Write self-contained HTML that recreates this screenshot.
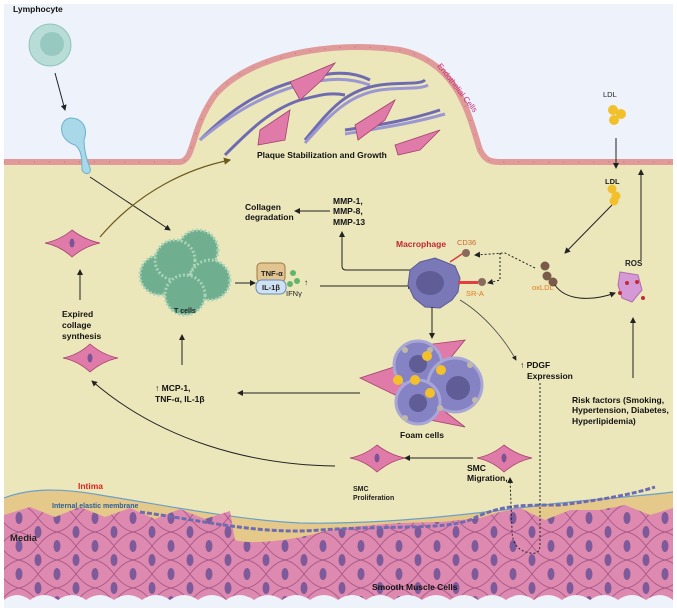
<!DOCTYPE html>
<html><head><meta charset="utf-8"><style>
html,body{margin:0;padding:0;background:#fff}
svg{display:block;font-family:"Liberation Sans",sans-serif}
.t{font-size:8.5px;font-weight:bold;fill:#111}
</style></head><body>
<svg width="677" height="613" viewBox="0 0 677 613" xmlns="http://www.w3.org/2000/svg">
<defs>
<pattern id="smc" x="0" y="0" width="38" height="28" patternUnits="userSpaceOnUse">
<rect width="38" height="28" fill="#de8ab0"/>
<path d="M0 14 Q9 2 19 0 M19 0 Q29 2 38 14 M0 14 Q9 26 19 28 M19 28 Q29 26 38 14" stroke="#a8588a" stroke-width="0.9" fill="none"/>
<ellipse cx="19" cy="14" rx="3.5" ry="6" fill="#7e5a9a"/>
<ellipse cx="0" cy="0" rx="3.5" ry="6" fill="#7e5a9a"/>
<ellipse cx="38" cy="0" rx="3.5" ry="6" fill="#7e5a9a"/>
<ellipse cx="0" cy="28" rx="3.5" ry="6" fill="#7e5a9a"/>
<ellipse cx="38" cy="28" rx="3.5" ry="6" fill="#7e5a9a"/>
</pattern>
<marker id="a" markerWidth="6" markerHeight="6" refX="5" refY="3" orient="auto"><path d="M0 0L6 3L0 6z" fill="#222"/></marker>
<marker id="o" markerWidth="6" markerHeight="6" refX="5" refY="3" orient="auto"><path d="M0 0L6 3L0 6z" fill="#6b5a1c"/></marker>
</defs>
<rect x="0" y="0" width="677" height="613" fill="#fff"/>
<rect x="4" y="4" width="669" height="604" fill="#eef3fb"/>
<path d="M4 162 L180 162 C195 160 190 130 215 95 C250 55 330 40 400 50 C460 62 470 120 480 150 C485 160 490 162 500 162 L673 162 L673 608 L4 608Z" fill="#ece7bb"/>
<path d="M4 162 L180 162 C195 160 190 130 215 95 C250 55 330 40 400 50 C460 62 470 120 480 150 C485 160 490 162 500 162 L673 162" stroke="#e09a9a" stroke-width="6" fill="none"/>
<path d="M4 162 L180 162 C195 160 190 130 215 95 C250 55 330 40 400 50 C460 62 470 120 480 150 C485 160 490 162 500 162 L673 162" stroke="#c86a6a" stroke-width="1" stroke-dasharray="1 14" fill="none"/>
<g stroke-width="3" fill="none">
<path d="M200 140 C230 110 260 90 300 80 C330 72 350 70 370 80" stroke="#6f6bb0"/>
<path d="M200 140 C230 115 262 95 300 85 C330 77 350 78 370 85" stroke="#9b97d0"/>
<path d="M225 155 C250 130 270 110 300 100 C320 95 330 92 345 95" stroke="#6f6bb0"/>
<path d="M305 140 C330 110 345 90 380 85 C400 82 420 85 425 80" stroke="#6f6bb0"/>
<path d="M305 143 C330 115 348 95 380 90 C400 87 420 90 428 85" stroke="#9b97d0"/>
<path d="M345 130 C380 125 410 120 440 110" stroke="#6f6bb0"/>
<path d="M345 134 C380 128 410 124 445 114" stroke="#9b97d0"/>
</g>
<g fill="#e07aa8" stroke="#a2416f" stroke-width="0.8">
<path d="M290 82 L335 63 L322 80 L300 100Z"/><path d="M260 130 L290 110 L285 140 L258 145Z"/>
<path d="M355 125 L395 100 L385 120 L358 140Z"/><path d="M395 145 L440 130 L420 150 L398 155Z"/>
</g>
<text x="257" y="158" class="t" font-size="8">Plaque Stabilization and Growth</text>
<text x="0" y="0" transform="translate(437,66) rotate(52)" font-size="8" fill="#c4337b">Endothelial Cells</text>
<path d="M4 498 C30 488 60 488 100 495 C180 508 240 520 300 523 C400 525 500 510 560 503 C620 497 650 495 673 492 L673 608 L4 608Z" fill="#e5c98a"/>
<path d="M4 498 C30 488 60 488 100 495 C180 508 240 520 300 523 C400 525 500 510 560 503 C620 497 650 495 673 492" stroke="#6aa0c8" stroke-width="1.2" fill="none"/>
<path d="M4 515 L30 507 L55 517 L80 507 L105 517 L130 508 L155 519 L180 509 L205 519 L230 511 L235 540 C250 545 290 540 310 535 L330 530 L360 526 L400 523 L440 522 L480 518 L500 512 L520 508 L545 520 L570 510 L600 510 L625 505 L650 515 L673 508 L673 600 L4 600Z" fill="url(#smc)"/>
<path d="M4 600 Q17 590 30 600 Q44 590 58 600 Q72 590 86 600 Q100 590 114 600 Q128 590 142 600 Q156 590 170 600 Q184 590 198 600 Q212 590 226 600 Q240 590 254 600 Q268 590 282 600 Q296 590 310 600 Q324 590 338 600 Q352 590 366 600 Q380 590 394 600 Q408 590 422 600 Q436 590 450 600 Q464 590 478 600 Q492 590 506 600 Q520 590 534 600 Q548 590 562 600 Q576 590 590 600 Q604 590 618 600 Q632 590 646 600 Q660 590 673 600 L673 608 L4 608Z" fill="#eef3fb"/>
<path d="M140 512 C200 520 260 535 320 530 C400 525 440 530 470 520 C500 505 520 505 560 505 C600 500 630 495 655 487" stroke="#6f6bb0" stroke-width="3" fill="none" stroke-dasharray="5 2"/>
<text x="78" y="489" font-size="8.5" font-weight="bold" fill="#e02020">Intima</text>
<text x="52" y="508" font-size="7" font-weight="bold" fill="#2a5f9a">Internal elastic membrane</text>
<text x="10" y="541" font-size="9.5" font-weight="bold" fill="#222">Media</text>
<text x="372" y="590" class="t" font-size="7.5">Smooth Muscle Cells</text>
<text x="13" y="12" class="t" font-size="7.5">Lymphocyte</text>
<circle cx="50" cy="45" r="21" fill="#b8ddd6" stroke="#8fc4bb"/><circle cx="52" cy="44" r="12" fill="#97c9c0"/>
<line x1="55" y1="73" x2="65" y2="110" stroke="#222" marker-end="url(#a)"/>
<path d="M70 118 C58 120 58 140 75 145 C82 150 82 160 82 170 C85 176 92 174 90 168 C86 158 84 150 84 140 C88 130 84 118 70 118Z" fill="#a9d9e8" stroke="#6ab0cc"/>
<line x1="90" y1="177" x2="170" y2="230" stroke="#222" marker-end="url(#a)"/>
<path d="M100 237 C140 190 190 168 230 160" stroke="#6b5a1c" stroke-width="1.2" fill="none" marker-end="url(#o)"/>
<g fill="#e07aa8" stroke="#a2416f" stroke-width="0.8">
<path d="M45 243 Q60 240 72 230 Q85 240 100 243 Q85 246 72 257 Q60 246 45 243Z"/>
<path d="M63 358 Q78 355 90 344 Q103 355 118 358 Q103 361 90 372 Q78 361 63 358Z"/>
<path d="M350 458 Q365 455 377 445 Q390 455 405 458 Q390 461 377 472 Q365 461 350 458Z"/>
<path d="M477 458 Q492 455 504 445 Q517 455 532 458 Q517 461 504 472 Q492 461 477 458Z"/>
</g>
<g fill="#7a5596"><ellipse cx="72" cy="243" rx="2.5" ry="4.5"/><ellipse cx="90" cy="358" rx="2.5" ry="4.5"/><ellipse cx="377" cy="458" rx="2.5" ry="4.5"/><ellipse cx="504" cy="458" rx="2.5" ry="4.5"/></g>
<line x1="80" y1="300" x2="80" y2="270" stroke="#222" marker-end="url(#a)"/>
<text class="t" x="62" y="317">Expired</text><text class="t" x="62" y="328">collage</text><text class="t" x="62" y="339">synthesis</text>
<g fill="#6fae8e" stroke="#a9d4b8" stroke-width="3" stroke-dasharray="2 2">
<circle cx="160" cy="275" r="20"/><circle cx="198" cy="250" r="20"/><circle cx="175" cy="260" r="20"/><circle cx="210" cy="280" r="20"/><circle cx="185" cy="295" r="20"/>
</g>
<text x="174" y="313" font-size="7" font-weight="bold" fill="#222">T cells</text>
<line x1="182" y1="365" x2="182" y2="335" stroke="#222" marker-end="url(#a)"/>
<line x1="235" y1="283" x2="255" y2="283" stroke="#222" marker-end="url(#a)"/>
<rect x="257" y="263" width="28" height="19" rx="4" fill="#e2c490" stroke="#9a7a40"/>
<text x="261" y="276" font-size="7.5" font-weight="bold" fill="#222">TNF-α</text>
<rect x="256" y="280" width="30" height="14" rx="6" fill="#cfe2f3" stroke="#6a8ab8"/>
<text x="262" y="290" font-size="7.5" font-weight="bold" fill="#222">IL-1β</text>
<circle cx="293" cy="273" r="3" fill="#63b56b"/><circle cx="297" cy="281" r="3" fill="#63b56b"/><circle cx="290" cy="284" r="3" fill="#63b56b"/>
<text x="286" y="296" font-size="7.5" fill="#222">IFNγ</text><text x="304" y="285" font-size="8" fill="#222">↑</text>
<line x1="320" y1="286" x2="413" y2="286" stroke="#222" marker-end="url(#a)"/>
<text class="t" x="333" y="204">MMP-1,</text><text class="t" x="333" y="214">MMP-8,</text><text class="t" x="333" y="225">MMP-13</text>
<text class="t" x="245" y="210">Collagen</text><text class="t" x="245" y="220">degradation</text>
<line x1="330" y1="211" x2="295" y2="211" stroke="#222" marker-end="url(#a)"/>
<path d="M410 270 L346 270 Q342 270 342 266 L342 232" stroke="#222" fill="none" marker-end="url(#a)"/>
<path d="M410 270 L420 262 L435 258 L445 262 L455 266 L460 278 L458 292 L452 300 L440 308 L425 307 L414 298 L408 285Z" fill="#7b78b8" stroke="#5c5a98"/>
<ellipse cx="430" cy="283" rx="14" ry="12" fill="#5f5c96"/>
<text x="396" y="247" font-size="8.5" font-weight="bold" fill="#c0282c">Macrophage</text>
<text x="457" y="245" font-size="7.5" fill="#c86a2a">CD36</text>
<text x="466" y="296" font-size="7.5" fill="#e07a20">SR-A</text>
<line x1="450" y1="262" x2="465" y2="252" stroke="#d04040" stroke-width="1.5"/>
<rect x="458" y="281" width="20" height="3" fill="#e04040"/>
<circle cx="466" cy="253" r="4" fill="#8a6a5a"/><circle cx="482" cy="282" r="4" fill="#8a6a5a"/>
<path d="M535 268 L505 253 L475 255" stroke="#222" stroke-dasharray="2 2" fill="none" marker-end="url(#a)"/>
<path d="M500 253 L500 280 L488 283" stroke="#222" stroke-dasharray="2 2" fill="none" marker-end="url(#a)"/>
<line x1="432" y1="307" x2="432" y2="338" stroke="#222" marker-end="url(#a)"/>
<path d="M460 300 C485 315 505 340 516 360" stroke="#444" stroke-width="0.8" fill="none" marker-end="url(#a)"/>
<text class="t" x="520" y="368">↑ PDGF</text><text class="t" x="527" y="379">Expression</text>
<path d="M540 383 L540 545 Q540 555 530 553 Q512 550 512 530 L510 478" stroke="#222" stroke-dasharray="2 2" fill="none" marker-end="url(#a)"/>
<g fill="#e07aa8" stroke="#a2416f" stroke-width="0.8">
<path d="M360 378 L400 365 L415 390 L395 395Z"/><path d="M425 345 L465 340 L445 365Z"/><path d="M430 400 L465 427 L430 420Z"/>
</g>
<circle cx="418" cy="365" r="24" fill="#8583c4" stroke="#a8a6d6" stroke-width="3"/>
<circle cx="455" cy="385" r="27" fill="#8583c4" stroke="#a8a6d6" stroke-width="3"/>
<circle cx="418" cy="402" r="22" fill="#8583c4" stroke="#a8a6d6" stroke-width="3"/>
<circle cx="418" cy="364" r="9" fill="#5f5c96"/><circle cx="458" cy="388" r="12" fill="#5f5c96"/><circle cx="418" cy="403" r="9" fill="#5f5c96"/>
<g fill="#c0b9a8"><circle cx="405" cy="350" r="3"/><circle cx="430" cy="350" r="3"/><circle cx="400" cy="380" r="3"/><circle cx="470" cy="365" r="3"/><circle cx="475" cy="400" r="3"/><circle cx="440" cy="408" r="3"/><circle cx="405" cy="418" r="3"/></g>
<g fill="#f2c02a"><circle cx="427" cy="356" r="5"/><circle cx="398" cy="380" r="5"/><circle cx="415" cy="380" r="5"/><circle cx="430" cy="393" r="5"/><circle cx="441" cy="370" r="5"/></g>
<text class="t" x="400" y="438">Foam cells</text>
<line x1="360" y1="393" x2="238" y2="393" stroke="#222" marker-end="url(#a)"/>
<text class="t" x="155" y="391">↑ MCP-1,</text><text class="t" x="155" y="402">TNF-α, IL-1β</text>
<path d="M335 466 C250 465 160 440 92 381" stroke="#222" fill="none" marker-end="url(#a)"/>
<line x1="473" y1="458" x2="405" y2="458" stroke="#222" marker-end="url(#a)"/>
<text class="t" x="467" y="471">SMC</text><text class="t" x="467" y="481">Migration,</text>
<text x="353" y="491" font-size="7" font-weight="bold" fill="#222">SMC</text><text x="353" y="500" font-size="7" font-weight="bold" fill="#222">Proliferation</text>
<text x="603" y="97" font-size="7.5" fill="#222">LDL</text>
<g fill="#f2c02a"><circle cx="613" cy="110" r="5"/><circle cx="621" cy="114" r="5"/><circle cx="614" cy="120" r="5"/></g>
<line x1="616" y1="138" x2="616" y2="168" stroke="#222" marker-end="url(#a)"/>
<text x="605" y="184" font-size="7.5" font-weight="bold" fill="#222">LDL</text>
<g fill="#f2c02a"><circle cx="612" cy="189" r="4.5"/><circle cx="616" cy="196" r="4.5"/><circle cx="614" cy="201" r="4.5"/></g>
<line x1="612" y1="205" x2="565" y2="253" stroke="#222" marker-end="url(#a)"/>
<g fill="#7a5a48"><circle cx="545" cy="266" r="4.5"/><circle cx="547" cy="276" r="4.5"/><circle cx="553" cy="282" r="4.5"/></g>
<text x="532" y="290" font-size="7.5" fill="#e07a20">oxLDL</text>
<path d="M555 285 C565 300 590 302 615 293" stroke="#222" fill="none" marker-end="url(#a)"/>
<text x="625" y="266" font-size="8" font-weight="bold" fill="#222">ROS</text>
<path d="M620 272 L638 275 L642 290 L632 302 L622 298 L618 285Z" fill="#d59ad5" stroke="#b06ab0"/>
<g fill="#c02a3a"><circle cx="627" cy="283" r="2"/><circle cx="637" cy="282" r="2"/><circle cx="620" cy="293" r="2"/><circle cx="643" cy="298" r="2"/></g>
<line x1="641" y1="260" x2="641" y2="170" stroke="#222" marker-end="url(#a)"/>
<line x1="633" y1="378" x2="633" y2="318" stroke="#222" marker-end="url(#a)"/>
<text class="t" x="572" y="403">Risk factors (Smoking,</text><text class="t" x="572" y="413">Hypertension, Diabetes,</text><text class="t" x="572" y="424">Hyperlipidemia)</text>
</svg>
</body></html>
